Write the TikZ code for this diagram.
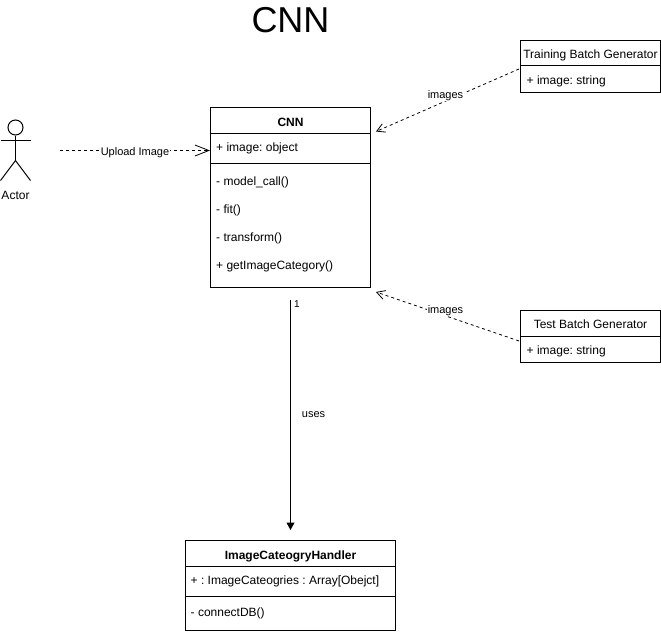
\documentclass[tikz,border=0pt]{standalone}
\usepackage{fontspec}
\setmainfont{Liberation Sans}
\usetikzlibrary{arrows.meta}
\tikzset{
  x=1pt,y=-1pt,
  classbox/.style={draw=black,line width=1pt,fill=white,inner sep=0pt},
  rulebox/.style={draw=black,line width=1pt},
  memtext/.style={anchor=base west,inner sep=0pt,font=\fontsize{12}{14}\selectfont\frenchspacing},
  centertext/.style={anchor=base,inner sep=0pt,font=\fontsize{12}{14}\selectfont},
  headtext/.style={anchor=base,inner sep=0pt,font=\fontsize{12}{14}\selectfont\bfseries},
  edgelabel/.style={anchor=base,fill=white,inner sep=0.5pt,font=\fontsize{11}{13}\selectfont},
  depbig/.style={draw=black,line width=0.8pt,dash pattern=on 3pt off 3pt,-{Straight Barb[length=14pt,width=11pt,line width=0.8pt]}},
  depsmall/.style={draw=black,line width=0.8pt,dash pattern=on 3pt off 3pt,-{Straight Barb[length=8pt,width=9pt,line width=0.8pt]}},
  assoc/.style={draw=black,line width=1pt,-{Triangle[length=7.5pt,width=8pt]}},
  figure/.style={draw=black,line width=1pt},
}
\begin{document}
\begin{tikzpicture}
\useasboundingbox (0,0) rectangle (661,634);
\fill[white] (0,0) rectangle (661,634);

\node[anchor=base,inner sep=0pt,font=\fontsize{36}{40}\selectfont] (title) at (290.5,33) {CNN};

% Actor
\node[circle,draw=black,line width=1pt,inner sep=0pt,minimum size=15pt,fill=white] (head) at (15.5,127.5) {};
\coordinate (hip) at (15.5,160.5);
\coordinate (armL) at (0.5,140.5);
\coordinate (armR) at (30.5,140.5);
\coordinate (legL) at (0.5,180.5);
\coordinate (legR) at (30.5,180.5);
\draw[figure] (head.south) -- (hip);
\draw[figure] (armL) -- (armR);
\draw[figure] (legL) -- (hip) -- (legR);
\node[centertext] (actor) at (15.5,199.5) {Actor};

% CNN class
\node[classbox,minimum width=160pt,minimum height=180pt] (cnn) at (290.5,197.5) {};
\draw[rulebox] ([yshift=-26pt]cnn.north west) -- ([yshift=-26pt]cnn.north east);
\draw[rulebox] ([yshift=-56pt]cnn.north west) -- ([yshift=-56pt]cnn.north east);
\node[headtext] (cnnh) at (290.5,126) {CNN};
\node[memtext] (cnn1) at (216,151) {+ image: object};
\node[memtext] (cnn2) at (216,185) {- model\_call()};
\node[memtext] (cnn3) at (216,213) {- fit()};
\node[memtext] (cnn4) at (216,241) {- transform()};
\node[memtext] (cnn5) at (216,269) {+ getImageCategory()};

% Training
\node[classbox,minimum width=140pt,minimum height=52pt] (train) at (590.5,66.5) {};
\draw[rulebox] ([yshift=-26pt]train.north west) -- ([yshift=-26pt]train.north east);
\node[centertext] (trainh) at (590.5,58.3) {Training Batch Generator};
\node[memtext] (train1) at (526.5,84.5) {+ image: string};

% Test
\node[classbox,minimum width=140pt,minimum height=52pt] (test) at (590.5,336.5) {};
\draw[rulebox] ([yshift=-26pt]test.north west) -- ([yshift=-26pt]test.north east);
\node[centertext] (testh) at (590.5,328.3) {Test Batch Generator};
\node[memtext] (test1) at (526.5,354) {+ image: string};

% Handler
\node[classbox,minimum width=210pt,minimum height=90pt] (handler) at (290.5,585.5) {};
\draw[rulebox] ([yshift=-26pt]handler.north west) -- ([yshift=-26pt]handler.north east);
\draw[rulebox] ([yshift=-56pt]handler.north west) -- ([yshift=-56pt]handler.north east);
\node[headtext] (handlerh) at (290.5,559) {ImageCateogryHandler};
\node[memtext] (handler1) at (190.5,584) {+ : ImageCateogries : Array[Obejct]};
\node[memtext] (handler2) at (190.5,616) {- connectDB()};

% Connector ends
\coordinate (upStart) at (60,150.5);
\coordinate (upEnd) at (210,150.5);
\coordinate (trainOut) at (519,69);
\coordinate (cnnInA) at (376,131.5);
\coordinate (testOut) at (519,341);
\coordinate (cnnInB) at (376,292);
\coordinate (usesStart) at (290.5,300);
\coordinate (usesEnd) at (290.5,530);

\draw[depbig] (upStart) -- (upEnd);
\draw[depsmall] (trainOut) -- (cnnInA);
\draw[depsmall] (testOut) -- (cnnInB);
\draw[assoc] (usesStart) -- (usesEnd);

\node[edgelabel] (lblup) at (135,155) {Upload Image};
\node[edgelabel] (lbla) at (445.5,98) {images};
\node[edgelabel] (lblb) at (445.5,313) {images};
\node[anchor=base west,inner sep=0pt,font=\fontsize{10}{11}\selectfont] (lblone) at (294,307.5) {1};
\node[anchor=base,inner sep=0pt,font=\fontsize{11}{13}\selectfont] (lbluses) at (313.5,417) {uses};
\end{tikzpicture}
\end{document}
